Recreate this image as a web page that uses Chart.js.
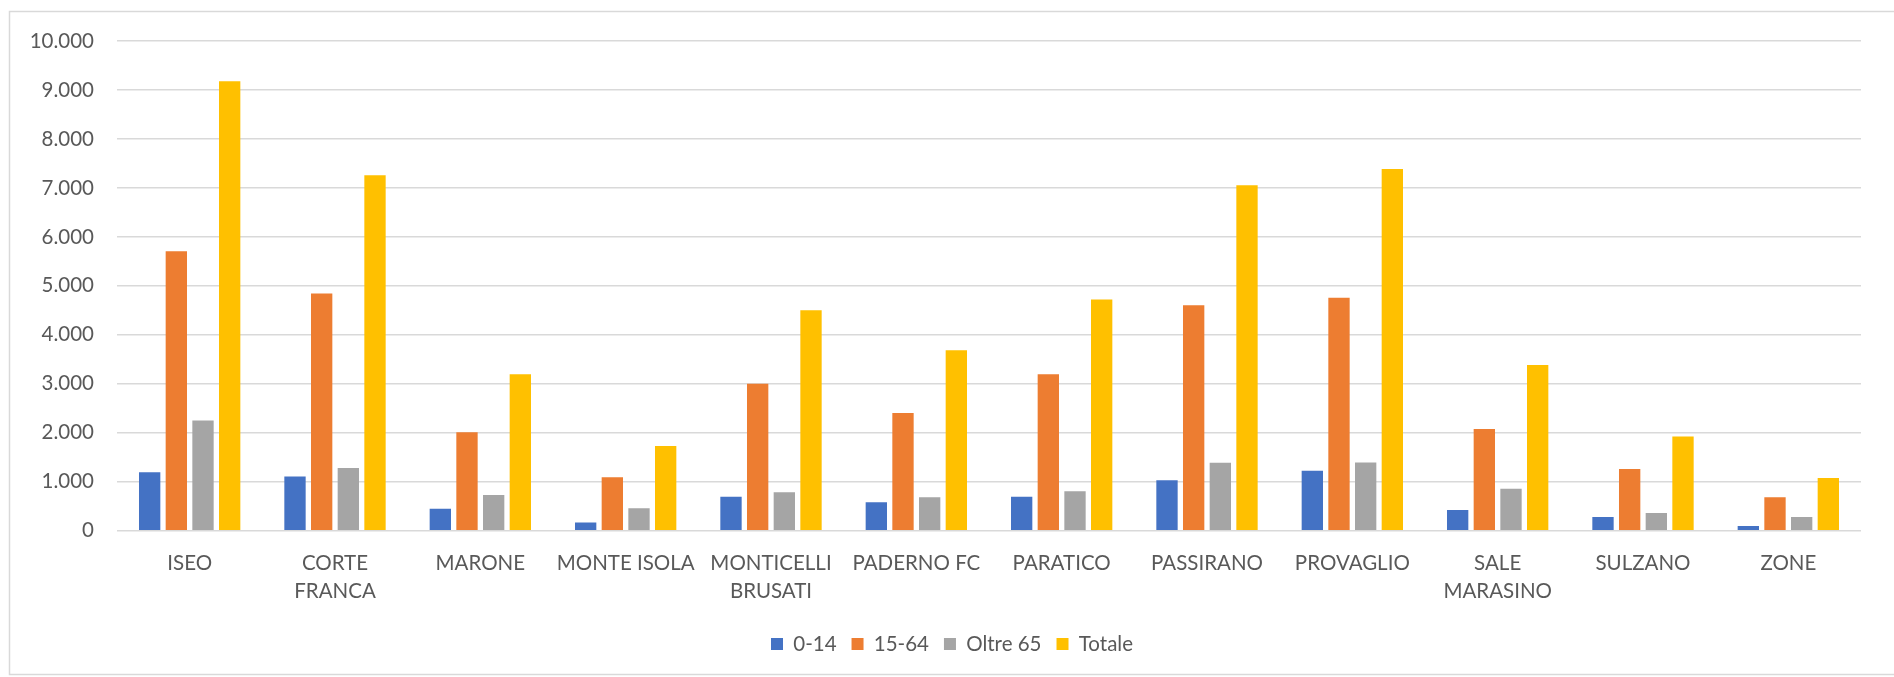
<!DOCTYPE html>
<html>
<head>
<meta charset="utf-8">
<script src="https://cdn.jsdelivr.net/npm/chart.js@4.4.1/dist/chart.umd.min.js"></script>
<style>
  html, body { margin: 0; padding: 0; background: #ffffff; }
  #wrap { position: absolute; left: 0; top: 0; width: 1894px; height: 677px; }
</style>
</head>
<body>
<div id="wrap"><canvas id="c" width="1894" height="677"></canvas></div>
<script>
const categories = [
  "ISEO", ["CORTE", "FRANCA"], "MARONE", "MONTE ISOLA", ["MONTICELLI", "BRUSATI"],
  "PADERNO FC", "PARATICO", "PASSIRANO", "PROVAGLIO", ["SALE", "MARASINO"], "SULZANO", "ZONE"
];
const seriesNames = ["0-14", "15-64", "Oltre 65", "Totale"];
const age0_14   = [1192, 1110, 449, 171, 694, 580, 694, 1029, 1224, 422, 280, 96];
const age15_64  = [5708, 4845, 2010, 1090, 3000, 2405, 3198, 4606, 4755, 2076, 1259, 682];
const over65    = [2250, 1280, 729, 457, 784, 682, 804, 1388, 1395, 857, 361, 280];
const totale    = [9178, 7259, 3198, 1732, 4504, 3688, 4722, 7055, 7388, 3382, 1927, 1076];
const yMin = 0, yMax = 10000, yStep = 1000;

const colors = ["#4472C4", "#ED7D31", "#A5A5A5", "#FFC000"];
const FONT = "Lato, 'Open Sans', sans-serif";
const TEXT = "#595959";

function fmt(v) {
  return String(v).replace(/\B(?=(\d{3})+(?!\d))/g, ".");
}

const frame = {
  id: "frame",
  beforeDraw(chart) {
    const ctx = chart.ctx;
    ctx.save();
    ctx.fillStyle = "#ffffff";
    ctx.fillRect(0, 0, chart.width, chart.height);
    ctx.strokeStyle = "#d9d9d9";
    ctx.lineWidth = 1.5;
    ctx.strokeRect(9.5, 11.5, chart.width + 10, chart.height - 14);
    ctx.restore();
  }
};

// centre the legend on the whole canvas (as in the original) rather than on the padded area
const legendShift = {
  id: "legendShift",
  afterLayout(chart) {
    if (chart.legend) {
      chart.legend.left += 21.5;
      chart.legend.right += 21.5;
    }
  }
};

const data = {
  labels: categories,
  datasets: [age0_14, age15_64, over65, totale].map((vals, i) => ({
    label: seriesNames[i],
    data: vals,
    backgroundColor: colors[i],
    borderWidth: 0,
    categoryPercentage: 0.734,
    barPercentage: 0.8
  }))
};

new Chart(document.getElementById("c"), {
  type: "bar",
  data,
  plugins: [frame, legendShift],
  options: {
    responsive: false,
    animation: false,
    devicePixelRatio: 1,
    layout: { padding: { top: 41, right: 33, left: 0, bottom: 12.75 } },
    plugins: {
      tooltip: { enabled: false },
      title: { display: false },
      legend: {
        position: "bottom",
        labels: {
          color: TEXT,
          font: { family: FONT, size: 20.5 },
          boxWidth: 12,
          boxHeight: 12,
          padding: 15
        }
      }
    },
    scales: {
      x: {
        grid: { display: false, drawTicks: false },
        border: { display: false },
        ticks: {
          color: TEXT,
          font: { family: FONT, size: 20.5, lineHeight: 1.4 },
          padding: 18,
          maxRotation: 0,
          minRotation: 0,
          autoSkip: false
        },
        afterFit(scale) { scale.height = 88; }
      },
      y: {
        min: yMin,
        max: yMax,
        grid: { color: "#d9d9d9", lineWidth: 1.5, drawTicks: false },
        border: { display: false },
        ticks: {
          stepSize: yStep,
          color: TEXT,
          font: { family: FONT, size: 20.5 },
          padding: 23,
          callback: (v) => fmt(v)
        },
        afterFit(scale) { scale.width = 117; }
      }
    }
  }
});
</script>
</body>
</html>
